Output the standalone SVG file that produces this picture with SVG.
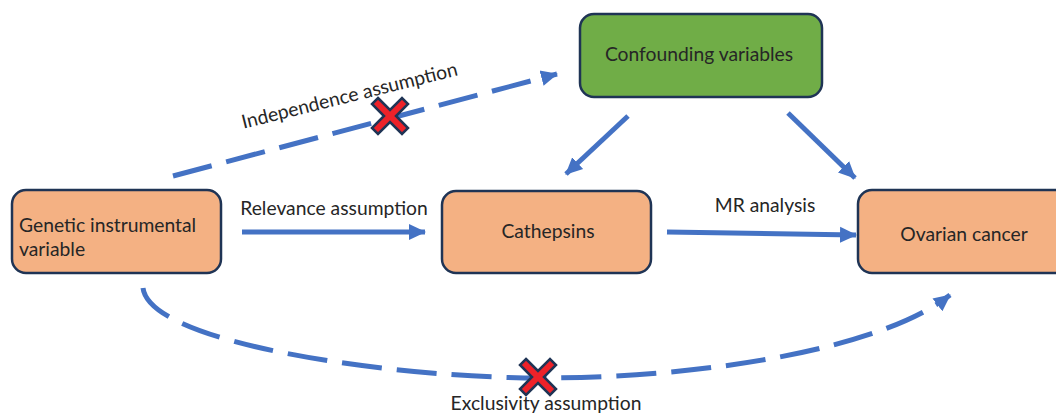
<svg xmlns="http://www.w3.org/2000/svg" width="1056" height="416" viewBox="0 0 1056 416">
<style>
.box{stroke:#1f3455;stroke-width:2.5}
.orange{fill:#f4b183}
.green{fill:#70ad47}
.t{font-family:Lato,"Liberation Sans",sans-serif;font-size:19.3px;fill:#262626}
.ln{stroke:#4472c4;stroke-width:5;fill:none}
.dash{stroke-dasharray:40 15}
.x{fill:#ee2229;stroke:#1f3455;stroke-width:2.5;stroke-linejoin:miter}
</style>
<defs>
<marker id="ah" markerUnits="userSpaceOnUse" markerWidth="18" markerHeight="18" viewBox="0 0 18 18" refX="16" refY="9" orient="auto">
<path d="M0,1 L17,9 L0,17 z" fill="#4472c4"/>
</marker>
<polygon id="cross" points="-12,-18 0,-6 12,-18 18,-12 6,0 18,12 12,18 0,6 -12,18 -18,12 -6,0 -18,-12"/>
</defs>
<g id="connectors">
<path class="ln dash" d="M173,176 L557,74" marker-end="url(#ah)"/>
<path class="ln" d="M242,232 L425,232" marker-end="url(#ah)"/>
<path class="ln" d="M667,232 L856,235" marker-end="url(#ah)"/>
<path class="ln" d="M628,116 L566,174" marker-end="url(#ah)"/>
<path class="ln" d="M788,113 L855,178" marker-end="url(#ah)"/>
<path class="ln dash" d="M143,288 C150,345 400,378 540,378 C700,378 880,350 950,295" marker-end="url(#ah)"/>
<use href="#cross" class="x" x="390" y="116"/>
<use href="#cross" class="x" x="538" y="377"/>
<text class="t" x="334" y="215" text-anchor="middle">Relevance assumption</text>
<text class="t" x="765" y="212" text-anchor="middle">MR analysis</text>
<text class="t" x="546" y="410" text-anchor="middle">Exclusivity assumption</text>
<text class="t" transform="translate(351,102) rotate(-14)" text-anchor="middle">Independence assumption</text>
</g>
<g id="genetic">
<rect class="box orange" x="12" y="190" width="209" height="83" rx="14"/>
<text class="t" x="19" y="232">Genetic instrumental</text>
<text class="t" x="19" y="256">variable</text>
</g>
<g id="cathepsins">
<rect class="box orange" x="442" y="191" width="209" height="82" rx="14"/>
<text class="t" x="548" y="238" text-anchor="middle">Cathepsins</text>
</g>
<g id="ovarian">
<rect class="box orange" x="858" y="190" width="215" height="83" rx="14"/>
<text class="t" x="964" y="241" text-anchor="middle">Ovarian cancer</text>
</g>
<g id="confounding">
<rect class="box green" x="580" y="14" width="242" height="83" rx="14"/>
<text class="t" x="699" y="61" text-anchor="middle">Confounding variables</text>
</g>
</svg>
